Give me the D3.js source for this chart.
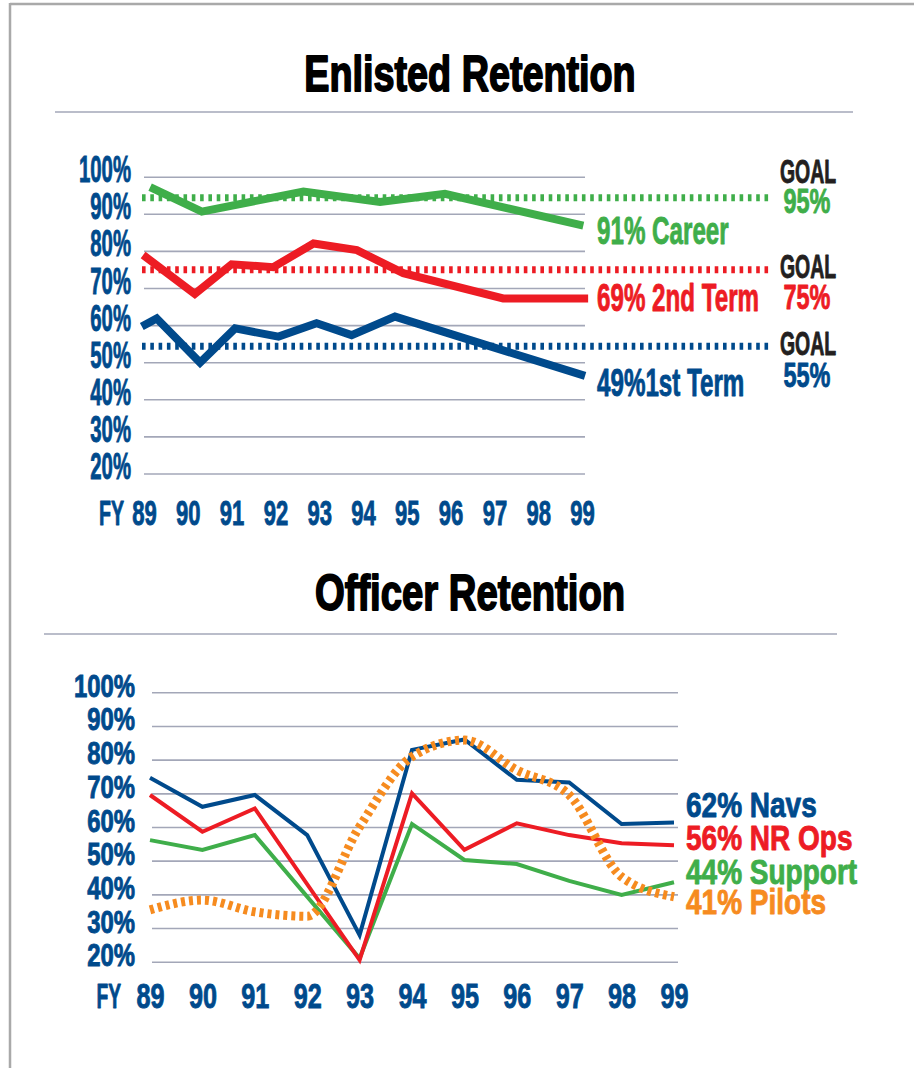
<!DOCTYPE html>
<html><head><meta charset="utf-8">
<script src="https://cdn.jsdelivr.net/npm/d3@7"></script>
<style>
html,body{margin:0;padding:0;background:#fff;}
svg text{font-family:'Liberation Sans',Arial,sans-serif;font-weight:bold;}
</style>
</head><body>
<svg id="c" width="914" height="1068"></svg>
<script>
// ---------- DATA ----------
const yearTicks = [89, 90, 91, 92, 93, 94, 95, 96, 97, 98, 99];
const pctTicks = [20, 30, 40, 50, 60, 70, 80, 90, 100];
const fyLabel = "FY";
const titles = ["Enlisted Retention", "Officer Retention"];

// Enlisted (x positions read as fractional fiscal years)
const careerYears = [89.14, 90.32, 92.64, 94.39, 95.87, 99.03];
const careerVals  = [97.2, 90.6, 96.0, 93.2, 95.4, 86.8];
const secondYears = [88.98, 90.16, 91.0, 91.95, 92.87, 93.86, 94.92, 97.2, 99.14];
const secondVals  = [78.9, 68.4, 76.4, 75.6, 82.0, 80.2, 74.0, 67.2, 67.2];
const firstYears  = [88.95, 89.29, 90.28, 91.08, 92.07, 92.94, 93.74, 94.73, 99.07];
const firstVals   = [59.6, 61.8, 49.9, 59.1, 56.9, 60.5, 57.3, 62.3, 46.3];
const goalLevels  = [94.3, 74.9, 54.3];
const goalLabels  = ["95%", "75%", "55%"];
const goalWord    = "GOAL";
const enlistedLabels = ["91% Career", "69% 2nd Term", "49%1st Term"];

// Officer
const officerYears = [89, 90, 91, 92, 93, 94, 95, 96, 97, 98, 99];
const navsVals    = [74.6, 66.0, 69.5, 57.6, 27.9, 82.9, 86.0, 74.0, 73.2, 60.9, 61.3];
const nrOpsVals   = [69.5, 58.6, 65.5, null, 20.5, 70.0, 53.2, 61.1, 57.6, 55.2, 54.6];
const supportVals = [56.1, 53.2, 57.6, null, 21.0, 60.9, 50.2, 49.0, 44.0, 39.8, 43.6];
const pilotsVals  = [35.4, 38.3, 34.8, 33.5, 60.1, 80.9, 85.8, 76.9, 69.5, 45.2, 39.3];
const officerLabels = ["62% Navs", "56% NR Ops", "44% Support", "41% Pilots"];

// ---------- STYLE ----------
const NAVY = "#004a8c", RED = "#ed1c24", GREEN = "#3fae4a", ORANGE = "#f68b1f",
      BLACK = "#231f20", GRID = "#a3a7b8", FRAME = "#a9a9a9";

const svg = d3.select("#c");

function label(g, s, x, y, size, sx, color, anchor, sw) {
  return g.append("text")
    .attr("transform", `translate(${x},${y}) scale(${sx},1)`)
    .attr("text-anchor", anchor || "start")
    .attr("font-size", size)
    .attr("fill", color)
    .attr("stroke", color)
    .attr("stroke-width", sw == null ? 0.9 : sw)
    .attr("stroke-linejoin", "round")
    .text(s);
}

// frame
svg.append("line").attr("x1", 10).attr("x2", 914).attr("y1", 4).attr("y2", 4)
  .attr("stroke", FRAME).attr("stroke-width", 2.5);
svg.append("line").attr("x1", 10).attr("x2", 10).attr("y1", 3).attr("y2", 1068)
  .attr("stroke", FRAME).attr("stroke-width", 2.5);

// titles + dividers
label(svg, titles[0], 470, 91, 50, 0.755, "#000", "middle", 1.8);
svg.append("line").attr("x1", 55).attr("x2", 853).attr("y1", 112).attr("y2", 112)
  .attr("stroke", GRID).attr("stroke-width", 1.5);
label(svg, titles[1], 470, 610, 50, 0.765, "#000", "middle", 1.8);
svg.append("line").attr("x1", 44).attr("x2", 837).attr("y1", 634).attr("y2", 634)
  .attr("stroke", GRID).attr("stroke-width", 1.5);

// ---------- ENLISTED ----------
const xTop = d3.scaleLinear().domain([89, 99]).range([144, 582]);
const yTop = d3.scaleLinear().domain([20, 100]).range([473.5, 176.7]);

const gT = svg.append("g");
const gridT = gT.append("g").attr("transform", "translate(144,0)")
  .call(d3.axisRight(yTop).tickValues(pctTicks).tickSize(441).tickFormat(""));
gridT.select(".domain").remove();
gridT.selectAll("line").attr("stroke", GRID).attr("stroke-width", 1.6);

const yAxT = gT.append("g").attr("transform", "translate(131,0)")
  .call(d3.axisLeft(yTop).tickValues(pctTicks).tickSize(0).tickFormat(d => d + "%"));
yAxT.select(".domain").remove();
yAxT.selectAll("text").attr("x", 0).attr("dy", 0)
  .attr("transform", "translate(0,5) scale(0.55,1)")
  .attr("font-size", 37).attr("fill", NAVY).attr("stroke", NAVY).attr("stroke-width", 0.9)
  .attr("text-anchor", "end");

const xAxT = gT.append("g").attr("transform", "translate(0,525)")
  .call(d3.axisBottom(xTop).tickValues(yearTicks).tickSize(0).tickFormat(d => d));
xAxT.select(".domain").remove();
xAxT.selectAll("text").attr("y", 0).attr("dy", 0)
  .attr("transform", "scale(0.63,1)")
  .attr("font-size", 35).attr("fill", NAVY).attr("stroke", NAVY).attr("stroke-width", 0.9)
  .attr("text-anchor", "middle");
label(gT, fyLabel, 124, 525, 35, 0.56, NAVY, "end");

const goalColors = [GREEN, RED, NAVY];
gT.selectAll(".goal").data(goalLevels).enter().append("line")
  .attr("x1", 142).attr("x2", 771)
  .attr("y1", d => yTop(d)).attr("y2", d => yTop(d))
  .attr("stroke", (d, i) => goalColors[i]).attr("stroke-width", 7)
  .attr("stroke-dasharray", "3.6,4.7");

const lineT = d3.line().x(d => xTop(d[0])).y(d => yTop(d[1]));
const enlisted = [
  {c: GREEN, pts: d3.zip(careerYears, careerVals)},
  {c: RED,   pts: d3.zip(secondYears, secondVals)},
  {c: NAVY,  pts: d3.zip(firstYears, firstVals)}
];
enlisted.forEach(s => {
  gT.append("path").attr("d", lineT(s.pts)).attr("fill", "none")
    .attr("stroke", s.c).attr("stroke-width", 8).attr("stroke-linejoin", "miter")
    .attr("stroke-linecap", "butt");
});

const enlBase = [244, 310.5, 396];
enlistedLabels.forEach((t, i) => label(gT, t, 597, enlBase[i], 39, 0.62, goalColors[i]));
const goalWordBase = [183, 278, 355];
const goalPctBase = [213, 309, 387];
goalLabels.forEach((t, i) => {
  label(gT, goalWord, 808, goalWordBase[i], 33, 0.59, BLACK, "middle");
  label(gT, t, 807, goalPctBase[i], 35, 0.67, goalColors[i], "middle");
});

// ---------- OFFICER ----------
const xBot = d3.scaleLinear().domain([89, 99]).range([150, 674]);
const yBot = d3.scaleLinear().domain([20, 100]).range([961.7, 692.3]);
const gB = svg.append("g");

const gridB = gB.append("g").attr("transform", "translate(152,0)")
  .call(d3.axisRight(yBot).tickValues(pctTicks).tickSize(526).tickFormat(""));
gridB.select(".domain").remove();
gridB.selectAll("line").attr("stroke", GRID).attr("stroke-width", 1.6);

const yAxB = gB.append("g").attr("transform", "translate(135,0)")
  .call(d3.axisLeft(yBot).tickValues(pctTicks).tickSize(0).tickFormat(d => d + "%"));
yAxB.select(".domain").remove();
yAxB.selectAll("text").attr("x", 0).attr("dy", 0)
  .attr("transform", "translate(0,4) scale(0.77,1)")
  .attr("font-size", 31).attr("fill", NAVY).attr("stroke", NAVY).attr("stroke-width", 0.9)
  .attr("text-anchor", "end");

const xAxB = gB.append("g").attr("transform", "translate(0,1008)")
  .call(d3.axisBottom(xBot).tickValues(yearTicks).tickSize(0).tickFormat(d => d));
xAxB.select(".domain").remove();
xAxB.selectAll("text").attr("y", 0).attr("dy", 0)
  .attr("transform", "scale(0.72,1)")
  .attr("font-size", 35).attr("fill", NAVY).attr("stroke", NAVY).attr("stroke-width", 0.9)
  .attr("text-anchor", "middle");
label(gB, fyLabel, 121, 1008, 35, 0.55, NAVY, "end");

const lineB = d3.line().x(d => xBot(d[0])).y(d => yBot(d[1]));
const officer = [
  {c: GREEN, v: supportVals},
  {c: RED,   v: nrOpsVals},
  {c: NAVY,  v: navsVals}
];
officer.forEach(s => {
  const pts = d3.zip(officerYears, s.v).filter(d => d[1] != null);
  gB.append("path").attr("d", lineB(pts)).attr("fill", "none")
    .attr("stroke", s.c).attr("stroke-width", 4).attr("stroke-linejoin", "miter");
});
const linePilots = d3.line().x(d => xBot(d[0])).y(d => yBot(d[1])).curve(d3.curveMonotoneX);
gB.append("path").attr("d", linePilots(d3.zip(officerYears, pilotsVals)))
  .attr("fill", "none").attr("stroke", ORANGE).attr("stroke-width", 9)
  .attr("stroke-dasharray", "4,4");

const offColors = [NAVY, RED, GREEN, ORANGE];
const offBase = [817, 850, 884, 914];
officerLabels.forEach((t, i) => label(gB, t, 686, offBase[i], 35, 0.8, offColors[i]));
</script>
</body></html>
